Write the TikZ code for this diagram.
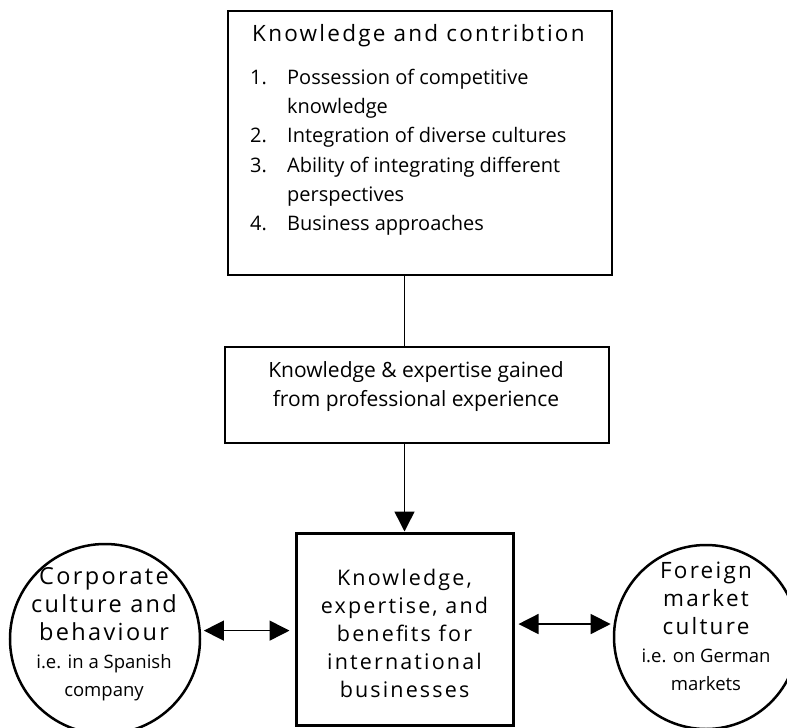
\documentclass[tikz,border=0pt]{standalone}
\usepackage{fontspec}
\setmainfont{Open Sans}
\newfontfamily\headfont[LetterSpace=10]{Open Sans}
\newcommand\notetxt{\normalfont\fontsize{18.5bp}{28bp}\selectfont}
\usetikzlibrary{arrows.meta}

\begin{document}
\begin{tikzpicture}[x=1bp,y=-1bp,
    box/.style={draw,line width=1.5bp,inner sep=0pt},
    mainbox/.style={draw,line width=3bp,inner sep=0pt},
    culture/.style={draw,circle,line width=2.5bp,inner sep=0pt},
    bodytxt/.style={align=center,inner sep=0pt,font=\fontsize{20bp}{29bp}\selectfont},
    headtxt/.style={align=center,inner sep=0pt,font=\fontsize{22.5bp}{28bp}\headfont},
    link/.style={line width=1.5bp},
    tip/.style={-{Triangle[length=20bp,width=20bp]}},
    both/.style={link,{Triangle[length=20bp,width=20bp]}-{Triangle[length=20bp,width=20bp]}}]
    \useasboundingbox (0,0) rectangle (787,728);
    % Knowledge box on top
    \node[box,minimum width=384bp,minimum height=264bp] (contrib) at (420,143) {};
    \node[headtxt,anchor=base west] (contribtitle) at (252,42) {Knowledge and contribtion};
    \node[bodytxt,anchor=base west] (contriblist) at (250,85) {%
        \begin{tabular}[t]{@{}p{37bp}@{}l@{}}
        1. & Possession of competitive\\
           & knowledge\\
        2. & Integration of diverse cultures\\
        3. & Ability of integrating different\\
           & perspectives\\
        4. & Business approaches
        \end{tabular}};
    % Experience box
    \node[box,minimum width=384bp,minimum height=96bp] (gained) at (417,395) {};
    \node[bodytxt,font=\fontsize{21bp}{29bp}\selectfont] (gainedtxt) at (416,387)
        {Knowledge \& expertise gained\\ from professional experience};
    % Main box and the two cultures
    \node[mainbox,minimum width=217bp,minimum height=192bp] (main) at (404.5,629) {};
    \node[headtxt,font=\fontsize{21.5bp}{28bp}\headfont] (maintxt) at (404.5,633)
        {Knowledge,\\ expertise, and\\ benefits for\\ international\\ businesses};
    \node[culture,minimum size=190bp] (corp) at (105,639) {};
    \node[headtxt,font=\fontsize{23.5bp}{28bp}\headfont] (corptxt) at (104,634)
        {Corporate\\ culture and\\ behaviour\\ {\notetxt i.e. in a Spanish}\\ {\notetxt company}};
    \node[culture,minimum size=184bp] (market) at (706,637) {};
    \node[headtxt] (markettxt) at (706,626)
        {Foreign\\ market\\ culture\\ {\notetxt i.e. on German}\\ {\notetxt markets}};
    % Connections
    \draw[link] (contrib.south -| main.north) -- (gained.north -| main.north);
    \draw[link,tip] (gained.south -| main.north) -- (main.north);
    \draw[both,shorten <=3bp,shorten >=5bp] (corp.5) -- (corp.5 -| main.west);
    \draw[both,shorten <=4bp,shorten >=3bp] (market.172 -| main.east) -- (market.172);
\end{tikzpicture}
\end{document}
